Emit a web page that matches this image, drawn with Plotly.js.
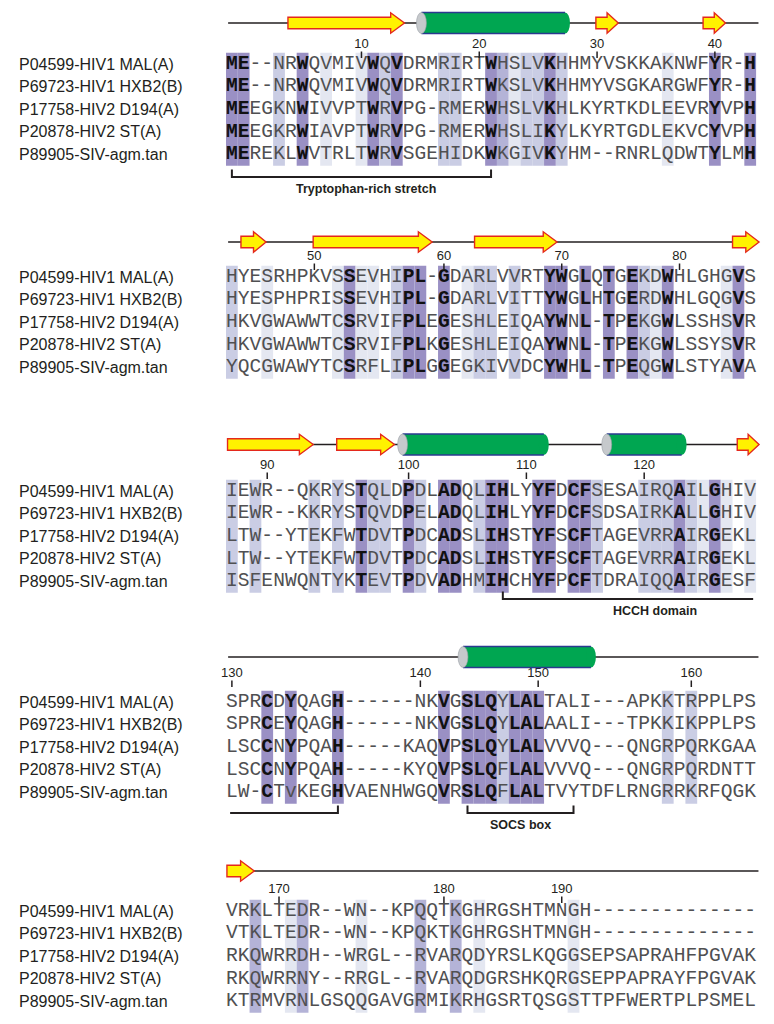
<!DOCTYPE html>
<html><head><meta charset="utf-8">
<script src="https://cdn.plot.ly/plotly-3.0.1.min.js"></script>
<style>html,body{margin:0;padding:0;background:#fff}#chart{width:774px;height:1024px}</style>
</head><body><div id="chart"></div>
<script>
// ---------------- DATA ----------------
const sequenceNames = ["P04599-HIV1 MAL(A)","P69723-HIV1 HXB2(B)","P17758-HIV2 D194(A)","P20878-HIV2 ST(A)","P89905-SIV-agm.tan"];

const alignBlock1 = [
 "ME--NRWQVMIVWQVDRMRIRTWHSLVKHHMYVSKKAKNWFYR-H",
 "ME--NRWQVMIVWQVDRMRIRTWKSLVKHHMYVSGKARGWFYR-H",
 "MEEGKNWIVVPTWRVPG-RMERWHSLVKHLKYRTKDLEEVRYVPH",
 "MEEGKRWIAVPTWRVPG-RMERWHSLIKYLKYRTGDLEKVCYVPH",
 "MEREKLWVTRLTWRVSGEHIDKWKGIVKYHM--RNRLQDWTYLMH"];
const alignBlock2 = [
 "HYESRHPKVSSEVHIPL-GDARLVVRTYWGLQTGEKDWHLGHGVS",
 "HYESPHPRISSEVHIPL-GDARLVITTYWGLHTGERDWHLGQGVS",
 "HKVGWAWWTCSRVIFPLEGESHLEIQAYWNL-TPEKGWLSSHSVR",
 "HKVGWAWWTCSRVIFPLKGESHLEIQAYWNL-TPEKGWLSSYSVR",
 "YQCGWAWYTCSRFLIPLGGEGKIVVDCYWHL-TPEQGWLSTYAVA"];
const alignBlock3 = [
 "IEWR--QKRYSTQLDPDLADQLIHLYYFDCFSESAIRQAILGHIV",
 "IEWR--KKRYSTQVDPELADQLIHLYYFDCFSDSAIRKALLGHIV",
 "LTW--YTEKFWTDVTPDCADSLIHSTYFSCFTAGEVRRAIRGEKL",
 "LTW--YTEKFWTDVTPDCADSLIHSTYFSCFTAGEVRRAIRGEKL",
 "ISFENWQNTYKTEVTPDVADHMIHCHYFPCFTDRAIQQAIRGESF"];
const alignBlock4 = [
 "SPRCDYQAGH------NKVGSLQYLALTALI---APKKTRPPLPS",
 "SPRCEYQAGH------NKVGSLQYLALAALI---TPKKIKPPLPS",
 "LSCCNYPQAH-----KAQVPSLQYLALVVVQ---QNGRPQRKGAA",
 "LSCCNYPQAH-----KYQVPSLQFLALVVVQ---QNGRPQRDNTT",
 "LW-CTvKEGHVAENHWGQVRSLQFLALTVYTDFLRNGRRKRFQGK"];
const alignBlock5 = [
 "VRKLTEDR--WN--KPQQTKGHRGSHTMNGH--------------",
 "VTKLTEDR--WN--KPQKTKGHRGSHTMNGH--------------",
 "RKQWRRDH--WRGL--RVARQDYRSLKQGGSEPSAPRAHFPGVAK",
 "RKQWRRNY--RRGL--RVARQDGRSHKQRGSEPPAPRAYFPGVAK",
 "KTRMVRNLGSQQGAVGRMIKRHGSRTQSGSTTPFWERTPLPSMEL"];

// conservation level per column (0 none .. 4 fully conserved)
const consBlock1 = "440020401001424000220043122420000000010004004";
const consBlock2 = "200100000141102440401220200440404042140000140";
const consBlock3 = "202000020204220420440244004404420002224214101";
const consBlock4 = "000404000400000000404442444000000000020200000";
const consBlock5 = "003001300001000030030100000001000000000000000";

// secondary structure: [type, first column, last column]  (E = strand, H = helix)
const ssBlock1 = [["E",5.76,15.65],["H",16.67,29.7],["E",31.9,33.8],["E",41.0,42.9]];
const ssBlock2 = [["E",1.77,3.9],["E",7.9,18.0],["E",21.6,28.6],["E",43.5,45.75]];
const ssBlock3 = [["E",0.63,7.9],["E",9.9,14.8],["H",15.07,27.9],["H",32.4,39.6],["E",43.9,45.75]];
const ssBlock4 = [["H",20.2,31.9]];
const ssBlock5 = [["E",0.58,2.9]];

// annotated regions: [label, from column, to column, end ticks]
const regionBlock1 = [["Tryptophan-rich stretch",1,23,"both"]];
const regionBlock3 = [["HCCH domain",24,45.25,"left"]];
const regionBlock4 = [["",0.85,10,"right"],["SOCS box",21,30,"both"]];

// ---------------- LAYOUT CONSTANTS ----------------
const colPx = 11.78, firstColLeftPx = 226, W = 774, H = 1024;
const rowPitch = 22.6;
const geom = [
 {lineY:23,   numY:45,  rowY:64,  bracketY:177},
 {lineY:242,  numY:257, rowY:277},
 {lineY:444.5,numY:466, rowY:491, bracketY:599},
 {lineY:657,  numY:674, rowY:702, bracketY:813},
 {lineY:871,  numY:890, rowY:911}
];
const labelCenters = {"Tryptophan-rich stretch":12.4, "HCCH domain":36.9, "SOCS box":25.5};
const blocks = [
 {seq:alignBlock1, cons:consBlock1, ss:ssBlock1, regions:regionBlock1},
 {seq:alignBlock2, cons:consBlock2, ss:ssBlock2, regions:[]},
 {seq:alignBlock3, cons:consBlock3, ss:ssBlock3, regions:regionBlock3},
 {seq:alignBlock4, cons:consBlock4, ss:ssBlock4, regions:regionBlock4},
 {seq:alignBlock5, cons:consBlock5, ss:ssBlock5, regions:[]}
];
const shadeColors = [null,"#e4e7f1","#cacde4","#b4b3d7","#9a90c4"];
const yellow="#fff200", red="#e4281c", green="#00a651", blue="#2b3990", capGray="#c6c9cc", ink="#231f20";

const xMin = 0.5 - firstColLeftPx/colPx;
const xMax = xMin + W/colPx;

// ---------------- BUILD ----------------
const shapes = [], annotations = [];
const nx=[],ny=[],nt=[], bx=[],by=[],bt=[];
const numX=[],numY=[],numT=[];
let resCount = 0;

blocks.forEach((blk,b)=>{
  const g = geom[b];
  const nRows = blk.seq.length;
  const yTop = g.rowY - rowPitch/2, yBot = g.rowY + (nRows-1)*rowPitch + rowPitch/2;
  for (let c=0;c<blk.cons.length;c++){
    const lv = +blk.cons[c];
    if (lv>0) shapes.push({type:"rect",xref:"x",yref:"y",x0:c+0.5,x1:c+1.5,y0:yTop,y1:yBot,
      fillcolor:shadeColors[lv],line:{width:0},layer:"below"});
  }
  blk.seq.forEach((s,r)=>{
    for (let c=0;c<s.length;c++){
      const ch = s[c], lv = +blk.cons[c];
      const y = g.rowY + r*rowPitch;
      if (lv===4 && /[A-Z]/.test(ch)) { bx.push(c+1); by.push(y); bt.push("<b>"+ch+"</b>"); }
      else { nx.push(c+1); ny.push(y); nt.push(ch); }
    }
  });
  const s0 = blk.seq[0];
  for (let c=0;c<s0.length;c++){
    if (s0[c] !== "-") {
      resCount++;
      if (resCount % 10 === 0) {
        numX.push(c+1); numY.push(g.numY); numT.push(String(resCount));
        shapes.push({type:"line",xref:"x",yref:"y",x0:c+1,x1:c+1,y0:g.numY+6.5,y1:g.numY+13,line:{color:ink,width:1.5}});
      }
    }
  }
  sequenceNames.forEach((nm,r)=>{
    annotations.push({xref:"paper",yref:"y",x:17/W,y:g.rowY+r*rowPitch,xanchor:"left",yanchor:"middle",
      text:nm,showarrow:false,font:{family:"Liberation Sans, Arial, sans-serif",size:16,color:ink}});
  });
  shapes.push({type:"line",xref:"x",yref:"y",x0:0.68,x1:45.7,y0:g.lineY,y1:g.lineY,line:{color:ink,width:1.6}});
  blk.ss.forEach(([t,p0,p1])=>{
    const yc = g.lineY;
    if (t==="E"){
      const len=p1-p0, hl=Math.min(1.17,len*0.5), hb=5.8, hh=10.2, pb=p1-hl;
      shapes.push({type:"path",xref:"x",yref:"y",
        path:`M${p0},${yc-hb} L${pb},${yc-hb} L${pb},${yc-hh} L${p1},${yc} L${pb},${yc+hh} L${pb},${yc+hb} L${p0},${yc+hb} Z`,
        fillcolor:yellow,line:{color:red,width:1.4}});
    } else {
      const hr=0.42, hh=10.5;
      shapes.push({type:"rect",xref:"x",yref:"y",x0:p0+hr,x1:p1-hr,y0:yc-hh,y1:yc+hh,fillcolor:green,line:{width:0}});
      shapes.push({type:"circle",xref:"x",yref:"y",x0:p1-2*hr,x1:p1,y0:yc-hh,y1:yc+hh,fillcolor:green,line:{width:0}});
      shapes.push({type:"line",xref:"x",yref:"y",x0:p0+hr,x1:p1-hr,y0:yc-hh,y1:yc-hh,line:{color:blue,width:1.4}});
      shapes.push({type:"line",xref:"x",yref:"y",x0:p0+hr,x1:p1-hr,y0:yc+hh,y1:yc+hh,line:{color:blue,width:1.4}});
      shapes.push({type:"circle",xref:"x",yref:"y",x0:p0,x1:p0+2*hr,y0:yc-hh,y1:yc+hh,fillcolor:capGray,line:{color:"#9aa0a6",width:0.6}});
    }
  });
  blk.regions.forEach(([lab,p0,p1,ends])=>{
    const y=g.bracketY, yt=y-7.5;
    let path = (ends==="both"||ends==="left") ? `M${p0},${yt} L${p0},${y}` : `M${p0},${y}`;
    path += ` L${p1},${y}`;
    if (ends==="both"||ends==="right") path += ` L${p1},${yt}`;
    shapes.push({type:"path",xref:"x",yref:"y",path:path,line:{color:ink,width:2},fillcolor:"rgba(0,0,0,0)"});
    if (lab) annotations.push({xref:"x",yref:"y",x:labelCenters[lab],y:y+12,xanchor:"center",yanchor:"middle",
      text:"<b>"+lab+"</b>",showarrow:false,font:{family:"Liberation Sans, Arial, sans-serif",size:12.5,color:ink}});
  });
});

const mono = '"Liberation Mono", "DejaVu Sans Mono", monospace';
const traces = [
 {type:"scatter",mode:"text",x:nx,y:ny,text:nt,textposition:"middle center",hoverinfo:"skip",
  textfont:{family:mono,size:19.6,color:"#505052"}},
 {type:"scatter",mode:"text",x:bx,y:by,text:bt,textposition:"middle center",hoverinfo:"skip",
  textfont:{family:mono,size:19.6,color:"#111111"}},
 {type:"scatter",mode:"text",x:numX,y:numY,text:numT,textposition:"middle center",hoverinfo:"skip",
  textfont:{family:"Liberation Sans, Arial, sans-serif",size:13,color:ink}}
];

const layout = {
  width:W,height:H,margin:{l:0,r:0,t:0,b:0},showlegend:false,
  paper_bgcolor:"#fff",plot_bgcolor:"#fff",
  xaxis:{range:[xMin,xMax],visible:false,fixedrange:true},
  yaxis:{range:[H,0],visible:false,fixedrange:true},
  shapes:shapes,annotations:annotations
};
Plotly.newPlot("chart",traces,layout,{staticPlot:true,displayModeBar:false});
</script></body></html>
